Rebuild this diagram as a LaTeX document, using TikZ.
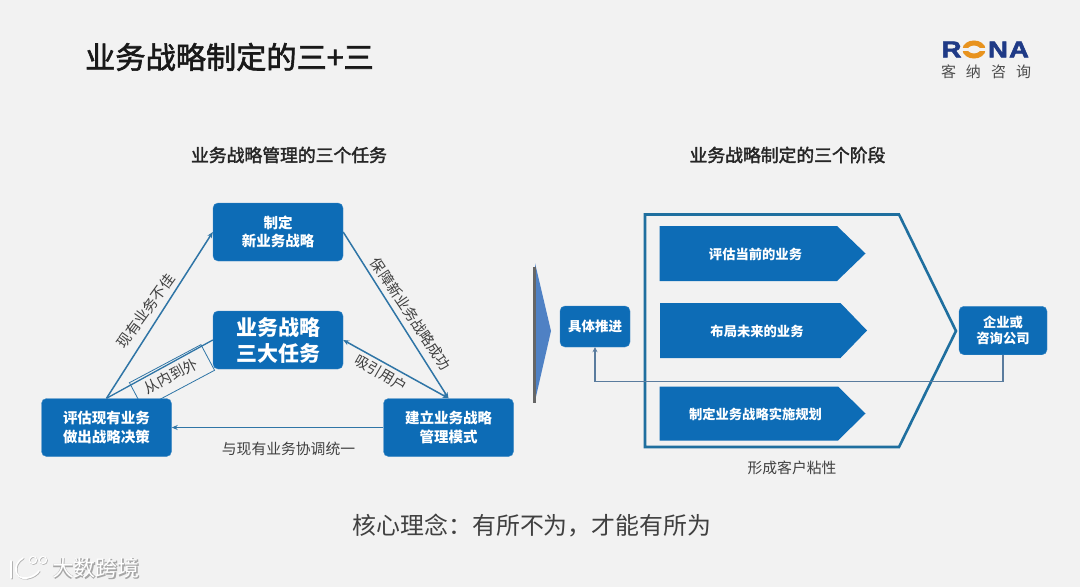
\documentclass[tikz,border=0pt]{standalone}
\usepackage{fontspec}
\setmainfont{Noto Sans CJK SC}
\newfontfamily\logofont[BoldFeatures={FakeBold=2.2}]{Liberation Sans}
\newfontfamily\titlefont[FakeBold=2]{Noto Sans CJK SC}
\usetikzlibrary{arrows.meta}
\definecolor{pagebg}{HTML}{F2F2F2}
\definecolor{boxblue}{HTML}{0D6CB6}
\definecolor{linkblue}{HTML}{2F75A6}
\definecolor{hullblue}{HTML}{1F6F9F}
\definecolor{backline}{HTML}{5A7C9E}
\definecolor{wedgeblue}{HTML}{4F81C4}
\definecolor{inkgrey}{HTML}{404040}
\definecolor{logonavy}{HTML}{1F3A86}
\definecolor{logoorange}{HTML}{E8931E}
\tikzset{
  taskbox/.style={
    shape = rectangle,
    draw = boxblue!80!white,
    fill = boxblue,
    rounded corners = 5pt,
    inner sep = 0pt,
    minimum width = 130pt,
    minimum height = 58pt,
    text = white,
    align = center,
    font = \bfseries\fontsize{14.5}{18.4}\selectfont
  },
  stagelabel/.style={
    text = white,
    font = \bfseries\fontsize{13.3}{16}\selectfont
  },
  linklabel/.style={
    text = inkgrey,
    inner sep = 0pt,
    font = \fontsize{14.5}{17}\selectfont
  },
  heading/.style={
    text = black!85,
    font = \titlefont\fontsize{17.8}{22}\selectfont
  },
  logoletter/.style={
    text = logonavy,
    inner sep = 0pt,
    xscale = 1.2,
    font = \logofont\bfseries\fontsize{23}{23}\selectfont
  },
  link/.style={
    draw = linkblue,
    line width = 1.5pt,
    -{Stealth[length=6pt,width=5pt]}
  },
}
\begin{document}
\begin{tikzpicture}[x=1pt,y=-1pt]
    \fill[pagebg] (0,0) rectangle (1080,587);
    \useasboundingbox (0,0) rectangle (1080,587);
    % title and logo
    \node[anchor=west, inner sep=0pt, text=black!90, font=\titlefont\fontsize{30.2}{36}\selectfont] (title) at (85,57) {业务战略制定的三+三};
    \node[heading] (lefthead) at (289,155) {业务战略管理的三个任务};
    \node[heading] (righthead) at (787.5,155) {业务战略制定的三个阶段};
    \node[logoletter] (logoR) at (951.5,49.5) {R};
    \draw[logoorange, line width=5pt] (974,49.5) ellipse (9pt and 6.5pt);
    \fill[pagebg] (962,48) rectangle (986,51);
    \node[logoletter] (logoN) at (998,49.5) {N};
    \node[logoletter] (logoA) at (1019,49.5) {A};
    \node[text=black!70, inner sep=0pt, font=\fontsize{15}{17}\selectfont] (logotext) at (986,72) {客\hspace{10pt}纳\hspace{10pt}咨\hspace{10pt}询};
    % left triangle
    \node[draw=linkblue, fill=pagebg, line width=0.8pt, minimum width=81pt, minimum height=29pt, inner sep=0pt, rotate=28] (inout) at (172,376.5) {};
    \node[linklabel, rotate=28] (inouttext) at (171,376) {从内到外};
    \node[taskbox] (make) at (278,232) {制定\\新业务战略};
    \node[taskbox, font=\bfseries\fontsize{21}{26}\selectfont] (core) at (278,340) {业务战略\\三大任务};
    \node[taskbox] (assess) at (106.5,427.5) {评估现有业务\\做出战略决策};
    \node[taskbox] (mode) at (448.5,427.5) {建立业务战略\\管理模式};
    \draw[link] (assess.north) -- (make.west);
    \draw[link] (make.east) -- (mode.north);
    \draw[link] (mode.west) -- (assess.east);
    \draw[link, {Stealth[length=6pt,width=5pt]}-{Stealth[length=6pt,width=5pt]}] (core.east) -- (mode.north);
    \draw[linkblue, line width=1.3pt] (core.west) -- (assess.north);
    \node[linklabel, rotate=54] (weak) at (146,311) {现有业务不佳};
    \node[linklabel, rotate=-56] (secure) at (411,314) {保障新业务战略成功};
    \node[linklabel, rotate=-30] (attract) at (381,373) {吸引用户};
    \node[linklabel, font=\fontsize{14.8}{17}\selectfont] (unify) at (288.5,449) {与现有业务协调统一};
    % wedge between the two halves
    \fill[wedgeblue] (535,263) -- (551,331) -- (535,401) -- cycle;
    \fill[black!60] (533,267) rectangle (535.5,403);
    % right hull
    \draw[hullblue, line width=2.6pt, line join=miter] (645,214.5) -- (899,214.5) -- (956,331) -- (899,447) -- (645,447) -- cycle;
    \fill[boxblue] (659.5,226) -- (837,226) -- (865.5,253.5) -- (837,281) -- (659.5,281) -- cycle;
    \fill[boxblue] (660,303) -- (840.5,303) -- (867,330.5) -- (840.5,358) -- (660,358) -- cycle;
    \fill[boxblue] (659.5,386.5) -- (838,386.5) -- (865.5,413.5) -- (838,440.5) -- (659.5,440.5) -- cycle;
    \node[stagelabel] (stageA) at (755.5,254) {评估当前的业务};
    \node[stagelabel] (stageB) at (757,331) {布局未来的业务};
    \node[stagelabel] (stageC) at (755.5,414) {制定业务战略实施规划};
    \node[taskbox, minimum width=70pt, minimum height=41pt, font=\bfseries\fontsize{13.5}{16}\selectfont] (push) at (595,326.5) {具体推进};
    \node[taskbox, minimum width=88pt, minimum height=48.5pt, font=\bfseries\fontsize{13.3}{16.5}\selectfont] (firm) at (1003,330.5) {企业或\\咨询公司};
    \coordinate (turnR) at (firm.south |- 0,381.5);
    \coordinate (turnL) at (push.south |- 0,381.5);
    \draw[backline, line width=1.2pt, -{Stealth[length=5pt,width=5pt]}] (firm.south) -- (turnR) -- (turnL) -- (push.south);
    \node[linklabel, font=\fontsize{14.8}{17}\selectfont] (sticky) at (792,467.5) {形成客户粘性};
    % bottom line and watermark
    \node[text=black!75, inner sep=0pt, font=\fontsize{23.9}{28}\selectfont] (motto) at (532,526) {核心理念：有所不为，才能有所为};
    \foreach \inkcol/\off in {black!30/0.7, white/0} {
      \begin{scope}[shift={(\off,\off)}]
        \draw[\inkcol, line width=1.6pt, line cap=round] (11,561) -- (11,578);
        \draw[\inkcol, line width=1.6pt, line cap=round] (23,558) .. controls (12,564) and (14,580) .. (27,578) .. controls (33,577) and (37,574) .. (39,571);
        \draw[\inkcol, line width=1.1pt] (33,560) circle (3.6pt);
        \draw[\inkcol, line width=1.1pt] (43,560) circle (3.6pt);
      \end{scope}
    }
    \node[text=black!35, inner sep=0pt, font=\bfseries\fontsize{22}{24}\selectfont] (markshade) at (96.7,568.7) {大数跨境};
    \node[text=white, inner sep=0pt, font=\fontsize{22}{24}\selectfont] (marktext) at (96,568) {大数跨境};
\end{tikzpicture}
\end{document}
